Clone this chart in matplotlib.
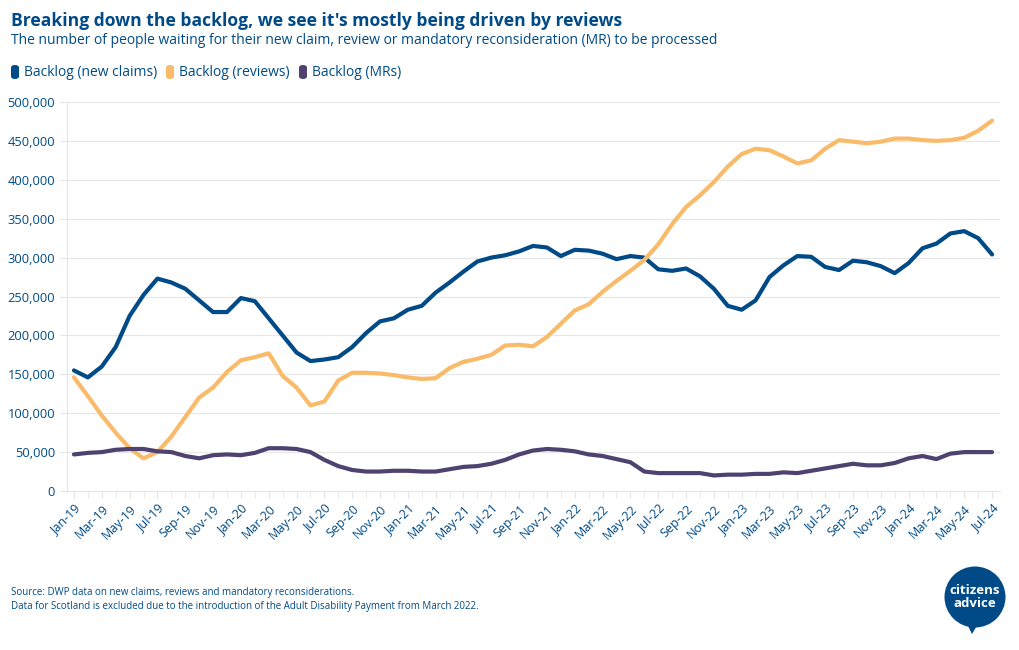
import numpy as np
import pandas as pd
import matplotlib
matplotlib.use("Agg")
import matplotlib.pyplot as plt
import matplotlib.ticker as mticker
from matplotlib.patches import FancyBboxPatch, Circle, Polygon

# ---------------------------------------------------------------------------
# Data, monthly Jan-19 .. Jul-24
# ---------------------------------------------------------------------------
months = pd.date_range("2019-01-01", periods=67, freq="MS").strftime("%b-%y").tolist()

new_claims = [155, 146, 160, 185, 225, 252, 273, 268, 260, 245, 230, 230,
              248, 244, 222, 200, 178, 167, 169, 172, 185, 203, 218, 222,
              233, 238, 255, 268, 282, 295, 300, 303, 308, 315, 313, 302,
              310, 309, 305, 298, 302, 300, 285, 283, 286, 276, 260, 238,
              233, 245, 275, 290, 302, 301, 288, 284, 296, 294, 289, 280,
              293, 312, 318, 331, 334, 325, 304]

reviews = [146, 122, 97, 75, 55, 42, 50, 70, 95, 120, 133, 153,
           168, 172, 177, 148, 133, 110, 115, 142, 152, 152, 151, 149,
           146, 144, 145, 158, 166, 170, 175, 187, 188, 186, 198, 215,
           232, 240, 256, 270, 283, 297, 317, 343, 365, 380, 397, 417,
           433, 440, 438, 430, 421, 425, 440, 451, 449, 447, 449, 453,
           453, 451, 450, 451, 454, 463, 476]

mrs = [47, 49, 50, 53, 54, 54, 51, 50, 45, 42, 46, 47,
       46, 49, 55, 55, 54, 50, 40, 32, 27, 25, 25, 26,
       26, 25, 25, 28, 31, 32, 35, 40, 47, 52, 54, 53,
       51, 47, 45, 41, 37, 25, 23, 23, 23, 23, 20, 21,
       21, 22, 22, 24, 23, 26, 29, 32, 35, 33, 33, 36,
       42, 45, 41, 48, 50, 50, 50]

series_names = ["Backlog (new claims)", "Backlog (reviews)", "Backlog (MRs)"]
series_values = [new_claims, reviews, mrs]
series_colors = ["#004b87", "#f9bb6a", "#4e4370"]

TEXT_BLUE = "#004b87"
GRID = "#e6e6e6"

plt.rcParams["font.family"] = ["Open Sans", "DejaVu Sans"]

# ---------------------------------------------------------------------------
# Figure
# ---------------------------------------------------------------------------
W, H = 1020, 650
fig = plt.figure(figsize=(W / 100, H / 100), dpi=100)
fig.patch.set_facecolor("white")


def px(x, y):
    """pixel coords (from top-left) -> figure fraction"""
    return x / W, 1 - y / H


ax = fig.add_axes([67 / W, 1 - 491 / H, (1000 - 67) / W, (491 - 102) / H])

x = np.arange(len(months))
for name, vals, col in zip(series_names, series_values, series_colors):
    ax.plot(x, np.array(vals) * 1000, color=col, lw=3, solid_joinstyle="round",
            solid_capstyle="round", label=name)

ax.set_xlim(-0.5, len(months) - 0.43)
ax.set_ylim(0, 500000)
ax.yaxis.set_major_locator(mticker.MultipleLocator(50000))
ax.yaxis.set_major_formatter(mticker.FuncFormatter(lambda v, p: f"{int(v):,}"))
ax.grid(axis="y", color=GRID, lw=0.8)
ax.set_axisbelow(True)

ax.set_xticks(x[::2])
ax.set_xticklabels(months[::2], rotation=45, ha="right", rotation_mode="anchor")
ax.set_xticks(x, minor=True)

for s in ["top", "right"]:
    ax.spines[s].set_visible(False)
for s in ["left", "bottom"]:
    ax.spines[s].set_color(GRID)
    ax.spines[s].set_linewidth(0.8)

ax.tick_params(axis="y", length=5, color=GRID, pad=3.6, labelsize=9.3, labelcolor=TEXT_BLUE)
ax.tick_params(axis="x", which="both", length=5, color=GRID, pad=3,
               labelsize=9, labelcolor=TEXT_BLUE)

# ---------------------------------------------------------------------------
# Titles, legend, notes
# ---------------------------------------------------------------------------
fig.text(*px(11, 21), "Breaking down the backlog, we see it's mostly being driven by reviews",
         fontsize=12.6, fontweight="bold", color=TEXT_BLUE, va="center", ha="left")
fig.text(*px(11, 40), "The number of people waiting for their new claim, review or mandatory "
         "reconsideration (MR) to be processed",
         fontsize=10.0, color=TEXT_BLUE, va="center", ha="left")

legend_x = [11, 166, 299]
for lx, name, col in zip(legend_x, series_names, series_colors):
    bx, by = px(lx, 79)
    fig.add_artist(FancyBboxPatch((bx, by), 8 / W, 14 / H, transform=fig.transFigure,
                                  boxstyle="round,pad=0,rounding_size=0.004",
                                  facecolor=col, edgecolor="none"))
    fig.text(*px(lx + 13, 72), name, fontsize=10, color=TEXT_BLUE,
             va="center", ha="left")

fig.text(*px(11, 593), "Source: DWP data on new claims, reviews and mandatory reconsiderations.",
         fontsize=7.0, color=TEXT_BLUE, va="center", ha="left")
fig.text(*px(11, 606), "Data for Scotland is excluded due to the introduction of the Adult "
         "Disability Payment from March 2022.",
         fontsize=7.0, color=TEXT_BLUE, va="center", ha="left")

# citizens advice logo
lax = fig.add_axes([940 / W, 1 - 636 / H, 70 / W, 72 / H])
lax.set_xlim(0, 70)
lax.set_ylim(0, 72)
lax.set_aspect("equal")
lax.axis("off")
lax.add_patch(Circle((35, 39), 30.5, facecolor=TEXT_BLUE, edgecolor="none"))
lax.add_patch(Polygon([(26, 14), (32, 2), (38, 12)], closed=True,
                      facecolor=TEXT_BLUE, edgecolor="none"))
lax.text(35, 39, "citizens\nadvice", color="white", fontsize=9.5, fontweight="bold",
         ha="center", va="center", linespacing=1.0)

fig.savefig("out.png", dpi=100)
